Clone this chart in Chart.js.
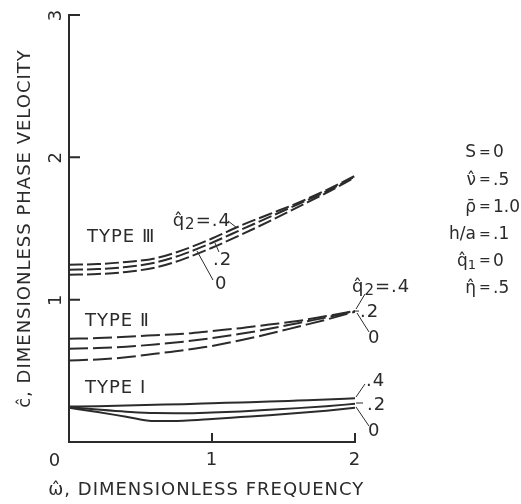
<!DOCTYPE html>
<html>
<head>
<meta charset="utf-8">
<script src="https://cdn.jsdelivr.net/npm/chart.js@4.4.1/dist/chart.umd.min.js"></script>
<style>
  html, body { margin: 0; padding: 0; background: #fff; }
  canvas { display: block; }
</style>
</head>
<body>
<canvas id="chart" width="521" height="504"></canvas>
<script>
// dimensionless frequency, shared by all curves
var omega = [0, 0.2, 0.4, 0.6, 0.8, 1.0, 1.2, 1.4, 1.6, 1.8, 2.0];

// TYPE III (dashed), q2 = .4 / .2 / 0
var type3_q4 = [1.245, 1.25, 1.265, 1.29, 1.35, 1.43, 1.52, 1.60, 1.68, 1.77, 1.87];
var type3_q2 = [1.21, 1.215, 1.23, 1.26, 1.32, 1.40, 1.49, 1.58, 1.67, 1.76, 1.865];
var type3_q0 = [1.175, 1.18, 1.195, 1.225, 1.285, 1.365, 1.455, 1.55, 1.65, 1.75, 1.86];

// TYPE II (dashed)
var type2_q4 = [0.725, 0.73, 0.74, 0.75, 0.76, 0.78, 0.80, 0.825, 0.85, 0.885, 0.92];
var type2_q2 = [0.655, 0.66, 0.67, 0.685, 0.705, 0.73, 0.76, 0.795, 0.835, 0.875, 0.92];
var type2_q0 = [0.573, 0.58, 0.595, 0.62, 0.645, 0.675, 0.715, 0.76, 0.81, 0.86, 0.915];

// TYPE I (solid)
var type1_q4 = [0.249, 0.252, 0.256, 0.261, 0.266, 0.272, 0.278, 0.284, 0.291, 0.298, 0.307];
var type1_q2 = [0.245, 0.228, 0.213, 0.203, 0.202, 0.207, 0.215, 0.226, 0.238, 0.252, 0.268];
var type1_q0 = [0.24, 0.21, 0.178, 0.147, 0.15, 0.162, 0.175, 0.188, 0.203, 0.22, 0.24];

var yTickLabels = ['1', '2', '3'];
var xTickLabels = ['0', '1', '2'];
var xTitle = '\u03c9\u0302, DIMENSIONLESS FREQUENCY';
var yTitle = '\u0109, DIMENSIONLESS PHASE VELOCITY';

var ink = '#2b2b2b';
var FONT = '"DejaVu Sans", sans-serif';
var FS = 18;

function pts(ys) {
  return omega.map(function (w, i) { return { x: w, y: ys[i] }; });
}

function curve(ys, dash) {
  return {
    data: pts(ys),
    borderColor: ink,
    borderWidth: 2,
    borderDash: dash,
    pointRadius: 0,
    tension: 0.4,
    cubicInterpolationMode: 'monotone',
    fill: false
  };
}

var dash3 = [14, 4];
var dash2 = [19, 5];

// text next to the curves, placed in data units
var notes = [
  { parts: [['TYPE Ⅲ', FS]], x: 0.126, y: 1.44 },
  { parts: [['TYPE Ⅱ', FS]], x: 0.112, y: 0.85 },
  { parts: [['TYPE I', FS]], x: 0.112, y: 0.38 },
  { parts: [['q\u0302', FS], ['2', 15, 4], ['=.4', FS]], x: 0.725, y: 1.553 },
  { parts: [['.2', FS]], x: 1.007, y: 1.279 },
  { parts: [['0', FS]], x: 1.021, y: 1.11 },
  { parts: [['q\u0302', FS], ['2', 15, 4], ['=.4', FS]], x: 1.979, y: 1.089 },
  { parts: [['.2', FS]], x: 2.035, y: 0.913 },
  { parts: [['0', FS]], x: 2.091, y: 0.731 },
  { parts: [['.4', FS]], x: 2.077, y: 0.429 },
  { parts: [['.2', FS]], x: 2.084, y: 0.26 },
  { parts: [['0', FS]], x: 2.091, y: 0.077 }
];

var leaders = [
  [1.112, 1.553, 1.175, 1.504],
  [1.021, 1.398, 1.049, 1.335],
  [0.895, 1.342, 1.007, 1.138],
  [2.007, 0.934, 2.07, 1.04],
  [1.986, 0.92, 2.028, 0.92],
  [2.014, 0.906, 2.098, 0.773],
  [2.007, 0.316, 2.07, 0.408],
  [2.007, 0.274, 2.056, 0.274],
  [2.007, 0.246, 2.098, 0.112]
];

// parameter block on the right
var PS = 17;
var params = [
  [[['S', PS]], [['0', PS]]],
  [[['\u03bd\u0302', PS]], [['.5', PS]]],
  [[['\u03c1\u0304', PS]], [['1.0', PS]]],
  [[['h/a', PS]], [['.1', PS]]],
  [[['q\u0302', PS], ['1', 13, 4]], [['0', PS]]],
  [[['\u03b7\u0302', PS]], [['.5', PS]]]
];
var paramRows = [2.03, 1.835, 1.65, 1.455, 1.27, 1.08];
var paramEq = 2.909;

function richWidth(ctx, parts) {
  var w = 0;
  parts.forEach(function (p) {
    ctx.font = p[1] + 'px ' + FONT;
    w += ctx.measureText(p[0]).width;
  });
  return w;
}

function drawRich(ctx, parts, x, y, align) {
  if (align === 'right') x -= richWidth(ctx, parts);
  ctx.textAlign = 'left';
  ctx.textBaseline = 'middle';
  parts.forEach(function (p) {
    ctx.font = p[1] + 'px ' + FONT;
    ctx.fillText(p[0], x, y + (p[2] || 0));
    x += ctx.measureText(p[0]).width;
  });
}

var decor = {
  id: 'decor',
  beforeDraw: function (chart) {
    chart.ctx.letterSpacing = '1px';
  },
  afterDraw: function (chart) {
    var ctx = chart.ctx, xs = chart.scales.x, ys = chart.scales.y;
    var X = function (v) { return xs.getPixelForValue(v); };
    var Y = function (v) { return ys.getPixelForValue(v); };
    ctx.save();
    ctx.letterSpacing = '1px';
    ctx.strokeStyle = ink;
    ctx.fillStyle = ink;

    // inward tick marks
    ctx.lineWidth = 2;
    ctx.beginPath();
    yTickLabels.forEach(function (t) {
      var py = Y(+t);
      ctx.moveTo(X(0), py);
      ctx.lineTo(X(0) + 11, py);
    });
    [1, 2].forEach(function (v) {
      ctx.moveTo(X(v), Y(0));
      ctx.lineTo(X(v), Y(0) - 9);
    });
    ctx.stroke();

    // y tick labels, turned like the axis title
    ctx.font = FS + 'px ' + FONT;
    ctx.textAlign = 'center';
    ctx.textBaseline = 'middle';
    yTickLabels.forEach(function (t) {
      ctx.save();
      ctx.translate(X(0) - 13, Y(+t));
      ctx.rotate(-Math.PI / 2);
      ctx.fillText(t, 0, 0);
      ctx.restore();
    });
    // the shared origin label
    ctx.fillText(xTickLabels[0], X(0) - 14, Y(0) + 19);

    // x title is wider than the plot, so it is drawn here without squeezing
    ctx.fillText(xTitle, X(0.96), Y(0) + 48);

    // leaders
    ctx.lineWidth = 1;
    ctx.beginPath();
    leaders.forEach(function (l) {
      ctx.moveTo(X(l[0]), Y(l[1]));
      ctx.lineTo(X(l[2]), Y(l[3]));
    });
    ctx.stroke();

    notes.forEach(function (n) {
      drawRich(ctx, n.parts, X(n.x), Y(n.y), 'left');
    });

    ctx.letterSpacing = '0px';
    params.forEach(function (row, i) {
      var py = Y(paramRows[i]), px = X(paramEq);
      drawRich(ctx, row[0], px - 9, py, 'right');
      ctx.font = '14px ' + FONT;
      ctx.textAlign = 'center';
      ctx.fillText('=', px, py);
      drawRich(ctx, row[1], px + 8, py, 'left');
    });
    ctx.restore();
  }
};

new Chart(document.getElementById('chart'), {
  type: 'line',
  data: {
    datasets: [
      curve(type3_q4, dash3), curve(type3_q2, dash3), curve(type3_q0, dash3),
      curve(type2_q4, dash2), curve(type2_q2, dash2), curve(type2_q0, dash2),
      curve(type1_q4, []), curve(type1_q2, []), curve(type1_q0, [])
    ]
  },
  options: {
    responsive: false,
    animation: false,
    layout: { padding: { top: 15, right: 166, left: 0, bottom: 0 } },
    plugins: { legend: { display: false }, tooltip: { enabled: false } },
    scales: {
      x: {
        type: 'linear', min: 0, max: 2,
        afterFit: function (s) { s.height = 62; },
        grid: { display: false, drawTicks: false },
        border: { display: true, color: ink, width: 2 },
        ticks: {
          stepSize: 1, padding: 8, color: ink,
          font: { family: FONT, size: FS },
          callback: function (v) { return v === 0 ? '' : xTickLabels[v]; }
        }
      },
      y: {
        type: 'linear', min: 0, max: 3,
        afterFit: function (s) { s.width = 69; },
        grid: { display: false, drawTicks: false },
        border: { display: true, color: ink, width: 2 },
        ticks: { display: false, stepSize: 1 },
        title: {
          display: true, text: yTitle, color: ink,
          font: { family: FONT, size: FS }, padding: { top: 15, bottom: 0 }
        }
      }
    }
  },
  plugins: [decor]
});
</script>
</body>
</html>
